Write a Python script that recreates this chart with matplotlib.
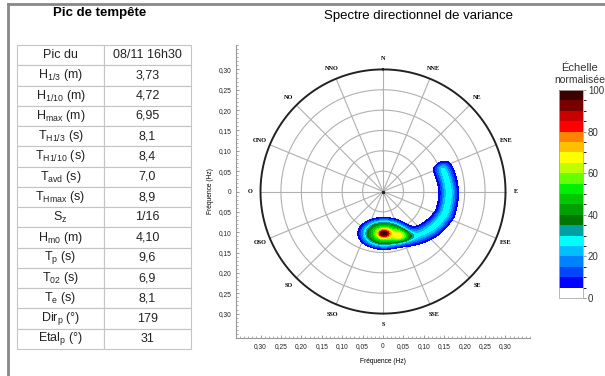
import numpy as np
import matplotlib.pyplot as plt
from matplotlib.colors import ListedColormap, BoundaryNorm
from matplotlib.ticker import MultipleLocator, FuncFormatter
import matplotlib as mpl

plt.rcParams['font.family'] = ['Liberation Sans', 'DejaVu Sans']
plt.rcParams['mathtext.default'] = 'regular'

# table "Pic de tempete"
row_labels = ['Pic du', r'H$_{1/3}$ (m)', r'H$_{1/10}$ (m)', r'H$_{max}$ (m)',
              r'T$_{H1/3}$ (s)', r'T$_{H1/10}$ (s)', r'T$_{avd}$ (s)', r'T$_{Hmax}$ (s)',
              r'S$_{z}$', r'H$_{m0}$ (m)', r'T$_{p}$ (s)', r'T$_{02}$ (s)',
              r'T$_{e}$ (s)', r'Dir$_{p}$ (°)', r'Etal$_{p}$ (°)']
row_values = ['08/11 16h30', '3,73', '4,72', '6,95', '8,1', '8,4', '7,0', '8,9',
              '1/16', '4,10', '9,6', '6,9', '8,1', '179', '31']

compass = ['N', 'NNE', 'NE', 'ENE', 'E', 'ESE', 'SE', 'SSE',
           'S', 'SSO', 'SO', 'OSO', 'O', 'ONO', 'NO', 'NNO']
circle_freqs = [0.05, 0.10, 0.15, 0.20, 0.25]
outer_freq = 0.30

# main peak (x = east, y = north, in Hz)
peak_x, peak_y = 0.002, -0.103
core_amp, core_sx, core_sy = 50, 0.011, 0.0075
base_amp, base_wx, base_wy = 50, 0.052, 0.032
shoulder_x, shoulder_y, shoulder_amp = 0.05, -0.108, 18
shoulder_sx, shoulder_sy = 0.016, 0.013

# secondary arm: ridge read along direction (deg from N) and frequency (Hz)
arm_dir = [62, 68, 90, 110, 129, 146, 160, 170]
arm_freq = [0.155, 0.156, 0.161, 0.161, 0.148, 0.133, 0.118, 0.112]
arm_amp = [27, 27, 28, 28, 27, 24, 20, 15]
arm_width = 0.013

levels = np.arange(0, 101, 5)
colors = ['#ffffff', '#0000ff', '#0046ff', '#0082ff', '#00beff', '#00ffff',
          '#00a0a0', '#007800', '#00a000', '#00c800', '#00f000', '#64ff00',
          '#beff00', '#ffff00', '#ffbe00', '#ff8200', '#ff0000', '#c80000',
          '#780000', '#3c0000']

# spectrum field
xs = np.linspace(-0.33, 0.33, 600)
X, Y = np.meshgrid(xs, xs)
R = np.hypot(X, Y)
TH = np.degrees(np.arctan2(X, Y)) % 360

core = core_amp * np.exp(-((X - peak_x) ** 2 / (2 * core_sx ** 2) + (Y - peak_y) ** 2 / (2 * core_sy ** 2)))
d2 = ((X - peak_x) / base_wx) ** 2 + ((Y - peak_y) / base_wy) ** 2
base = base_amp * np.exp(-d2 ** 2)
shoulder = shoulder_amp * np.exp(-((X - shoulder_x) ** 2 / (2 * shoulder_sx ** 2) + (Y - shoulder_y) ** 2 / (2 * shoulder_sy ** 2)))
fc = np.interp(TH, arm_dir, arm_freq)
amp = np.interp(TH, arm_dir, arm_amp)
win = 1 / (1 + np.exp(-(TH - 65) / 1.5)) / (1 + np.exp((TH - 168) / 4))
arm = amp * win * np.exp(-(R - fc) ** 2 / (2 * arm_width ** 2))
Z = np.clip(core + base + shoulder + arm, 0, 99.9)

fig = plt.figure(figsize=(6.05, 3.76), dpi=100)

# frame
fig.add_artist(plt.Line2D([7.5 / 605, 1], [1 - 3.5 / 376, 1 - 3.5 / 376], color='#888888', lw=2))
fig.add_artist(plt.Line2D([7.5 / 605, 7.5 / 605], [0, 1 - 3.5 / 376], color='#888888', lw=2))

fig.text(100 / 605, 1 - 13 / 376, 'Pic de tempête', ha='center', va='center', fontsize=9.5, fontweight='bold')
fig.text(418 / 605, 1 - 16 / 376, 'Spectre directionnel de variance', ha='center', va='center', fontsize=9.5)

# table
tab = fig.add_axes([17 / 605, 27 / 376, 174 / 605, 304 / 376])
tab.axis('off')
t = tab.table(cellText=[[a, b] for a, b in zip(row_labels, row_values)],
              cellLoc='center', bbox=[0, 0, 1, 1])
t.auto_set_font_size(False)
for cell in t.get_celld().values():
    cell.set_edgecolor('#c4c4c4')
    cell.set_linewidth(0.8)
    cell.get_text().set_fontsize(9)
    cell.get_text().set_color('#222222')

# directional spectrum
ax = fig.add_axes([236 / 605, 38 / 376, 294 / 605, 293 / 376])
ax.set_xlim(-0.36, 0.36)
ax.set_ylim(-0.36, 0.36)

ang = np.linspace(0, 2 * np.pi, 361)
for f in circle_freqs:
    ax.plot(f * np.sin(ang), f * np.cos(ang), color='#b0b0b0', lw=0.8, zorder=1)
ax.plot(outer_freq * np.sin(ang), outer_freq * np.cos(ang), color='#222222', lw=1.4, zorder=3)
for i, name in enumerate(compass):
    a = np.radians(i * 22.5)
    ax.plot([0, outer_freq * np.sin(a)], [0, outer_freq * np.cos(a)], color='#b0b0b0', lw=0.8, zorder=1)
    ax.text(0.326 * np.sin(a), 0.326 * np.cos(a), name, ha='center', va='center',
            fontsize=4.5, fontweight='bold', family='Liberation Serif')
ax.plot([0], [0], 'o', color='#222222', ms=1.5, zorder=1)

ax.contourf(X, Y, Z, levels=levels[1:], colors=colors[1:], zorder=2)

for s in ['top', 'right']:
    ax.spines[s].set_visible(False)
for s in ['left', 'bottom']:
    ax.spines[s].set_color('#999999')
    ax.spines[s].set_linewidth(0.8)
fmt = FuncFormatter(lambda v, p: '0' if abs(v) < 1e-9 else ('%.2f' % abs(v)).replace('.', ','))
ax.set_xticks(np.arange(-0.30, 0.301, 0.05))
ax.set_yticks(np.arange(-0.30, 0.301, 0.05))
ax.xaxis.set_major_formatter(fmt)
ax.yaxis.set_major_formatter(fmt)
ax.xaxis.set_minor_locator(MultipleLocator(0.01))
ax.yaxis.set_minor_locator(MultipleLocator(0.01))
ax.tick_params(which='both', direction='in', colors='#888888', labelcolor='#222222', labelsize=4.8)
ax.tick_params(which='major', length=2.5, width=0.6)
ax.tick_params(which='minor', length=1.5, width=0.5)
ax.set_xlabel('Fréquence (Hz)', fontsize=4.8, labelpad=6)
ax.set_ylabel('Fréquence (Hz)', fontsize=4.8, labelpad=3)

# colour scale
cax = fig.add_axes([559 / 605, 78 / 376, 24 / 605, 208 / 376])
cb = mpl.colorbar.ColorbarBase(cax, cmap=ListedColormap(colors), norm=BoundaryNorm(levels, len(colors)),
                               ticks=[0, 20, 40, 60, 80, 100])
cb.outline.set_edgecolor('#aaaaaa')
cb.outline.set_linewidth(0.6)
cax.tick_params(labelsize=7, length=2.5, width=0.6, colors='#888888', labelcolor='#333333', pad=1)
fig.text(580 / 605, 1 - 68 / 376, 'Échelle', ha='center', va='center', fontsize=8, color='#333333')
fig.text(580 / 605, 1 - 80 / 376, 'normalisée', ha='center', va='center', fontsize=7.5, color='#333333')

fig.savefig('out.png', dpi=100)
